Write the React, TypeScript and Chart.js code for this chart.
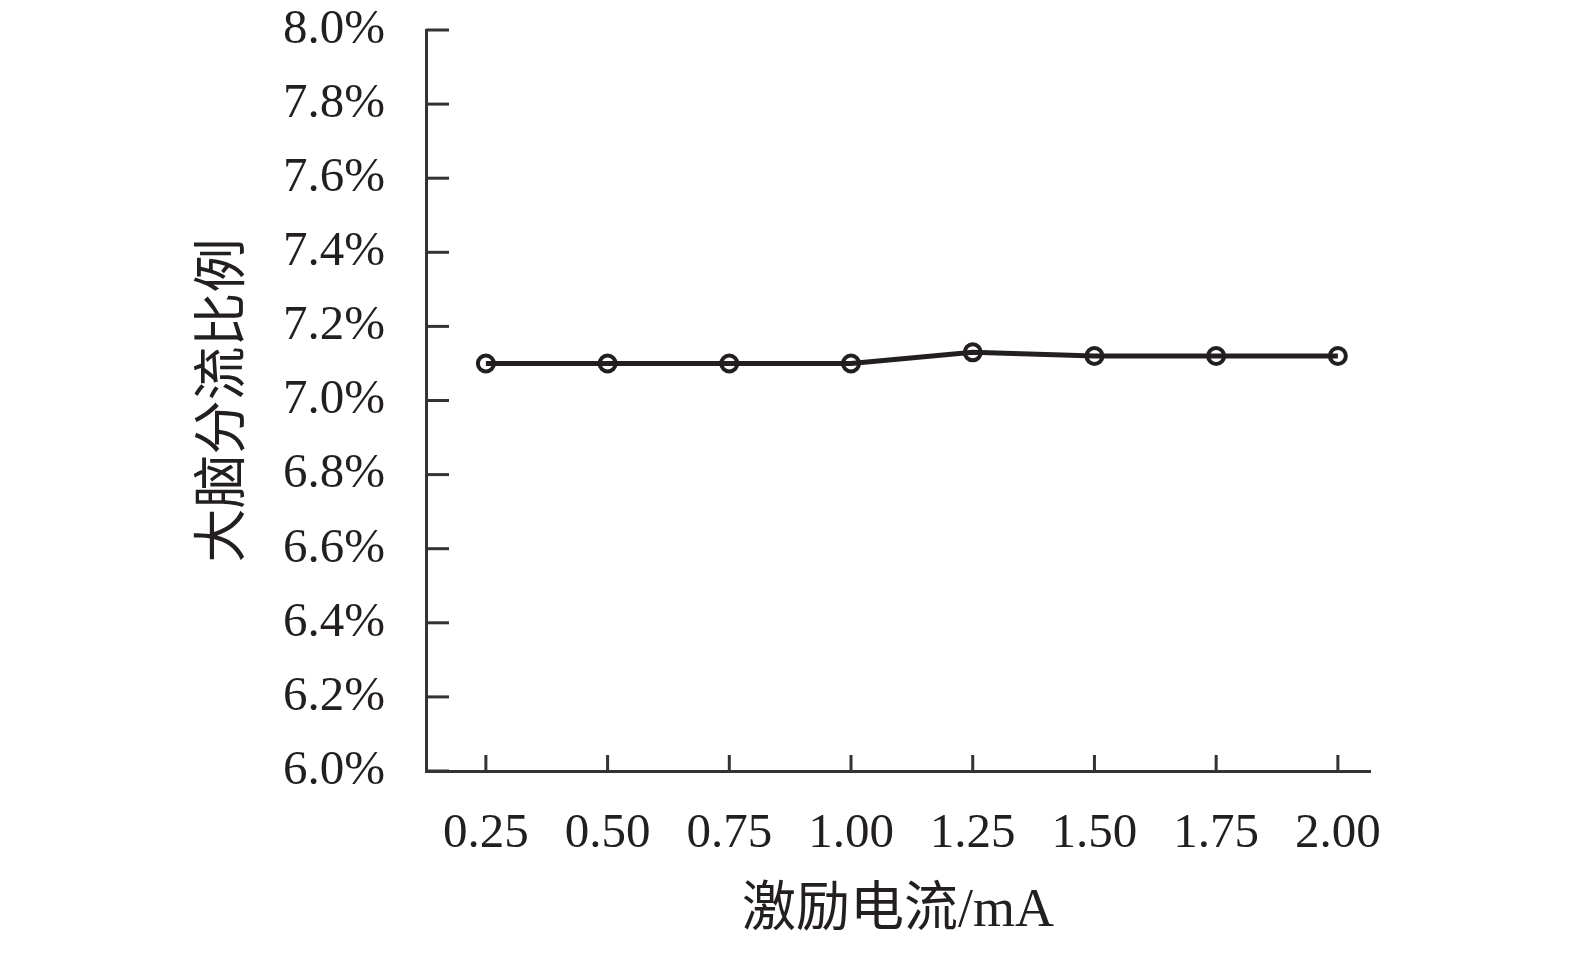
import React, { useEffect, useRef } from "react";
import { Chart, registerables } from "chart.js";

Chart.register(...registerables);

const currents = [0.25, 0.5, 0.75, 1.0, 1.25, 1.5, 1.75, 2.0];
const ratios = [7.1, 7.1, 7.1, 7.1, 7.13, 7.12, 7.12, 7.12];
const yMin = 6.0;
const yMax = 8.0;
const yStep = 0.2;
const xTitle = "激励电流/mA";
const yTitle = "大脑分流比例";

const INK = "#231f20";
const AXIS = "#333333";

const innerTicks = {
  id: "innerTicks",
  afterDraw(chart: any) {
    const { ctx, chartArea, scales } = chart;
    ctx.save();
    ctx.strokeStyle = AXIS;
    ctx.lineWidth = 3;
    ctx.lineCap = "butt";
    scales.x.ticks.forEach((t: any) => {
      const px = scales.x.getPixelForValue(t.value);
      ctx.beginPath();
      ctx.moveTo(px, chartArea.bottom);
      ctx.lineTo(px, chartArea.bottom - 16);
      ctx.stroke();
    });
    scales.y.ticks.forEach((t: any) => {
      const py = scales.y.getPixelForValue(t.value);
      ctx.beginPath();
      ctx.moveTo(chartArea.left, py);
      ctx.lineTo(chartArea.left + 23, py);
      ctx.stroke();
    });
    ctx.restore();
  },
};

export default function App() {
  const ref = useRef<HTMLCanvasElement | null>(null);
  useEffect(() => {
    if (!ref.current) return;
    const chart = new Chart(ref.current, {
      type: "line",
      data: {
        datasets: [
          {
            data: currents.map((c, i) => ({ x: c, y: ratios[i] })),
            borderColor: INK,
            borderWidth: 5,
            tension: 0,
            pointRadius: 8,
            pointBorderWidth: 4,
            pointBorderColor: INK,
            pointBackgroundColor: "rgba(0,0,0,0)",
          },
        ],
      },
      options: {
        animation: false,
        responsive: false,
        devicePixelRatio: 1,
        layout: { padding: { top: 30, right: 205, bottom: 0, left: 0 } },
        plugins: { legend: { display: false }, tooltip: { enabled: false } },
        scales: {
          x: {
            type: "linear",
            min: 0.127,
            max: 2.066,
            afterBuildTicks: (s: any) => {
              s.ticks = currents.map((v) => ({ value: v }));
            },
            afterFit: (s: any) => {
              s.height = 186;
              s.paddingLeft = 0;
              s.paddingRight = 0;
            },
            grid: { display: false, drawTicks: false },
            border: { display: true, color: AXIS, width: 3 },
            ticks: {
              padding: 34,
              color: INK,
              font: { family: "'Liberation Serif', serif", size: 49 },
              callback: (v: any) => Number(v).toFixed(2),
              maxRotation: 0,
              autoSkip: false,
            },
            title: {
              display: true,
              text: xTitle,
              color: INK,
              font: { family: "'Liberation Serif', 'Noto Sans CJK SC', serif", size: 54, lineHeight: 1.2 },
              padding: { top: 0, bottom: 13 },
            },
          },
          y: {
            min: yMin,
            max: yMax,
            afterFit: (s: any) => {
              s.width = 426;
              s.paddingTop = 0;
              s.paddingBottom = 0;
            },
            grid: { display: false, drawTicks: false },
            border: { display: true, color: AXIS, width: 3 },
            ticks: {
              stepSize: yStep,
              padding: 41,
              color: INK,
              font: { family: "'Liberation Serif', serif", size: 49 },
              callback: (v: any) => Number(v).toFixed(1) + "%",
            },
            title: {
              display: true,
              text: yTitle,
              color: INK,
              font: { family: "'Noto Sans CJK SC', sans-serif", size: 54, lineHeight: 1.2 },
              padding: { top: 187, bottom: 0 },
            },
          },
        },
      },
      plugins: [innerTicks],
    });
    return () => chart.destroy();
  }, []);
  return (
    <div style={{ position: "absolute", left: 0, top: 0, width: 1575, height: 957, background: "#fff" }}>
      <canvas ref={ref} width={1575} height={957} style={{ width: 1575, height: 957, display: "block" }} />
    </div>
  );
}
